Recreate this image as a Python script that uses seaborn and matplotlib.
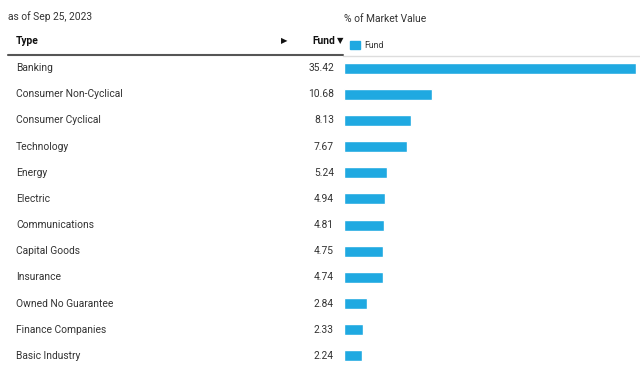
import pandas as pd
import matplotlib.pyplot as plt
import matplotlib.transforms as mtransforms
import seaborn as sns

# Sector breakdown, % of market value
types = ['Banking', 'Consumer Non-Cyclical', 'Consumer Cyclical', 'Technology',
         'Energy', 'Electric', 'Communications', 'Capital Goods', 'Insurance',
         'Owned No Guarantee', 'Finance Companies', 'Basic Industry']
fund = [35.42, 10.68, 8.13, 7.67, 5.24, 4.94, 4.81, 4.75, 4.74, 2.84, 2.33, 2.24]
as_of = 'as of Sep 25, 2023'

df = pd.DataFrame({'Type': types, 'Fund': fund})

sns.set_style('white')
plt.rcParams['font.family'] = ['Roboto', 'DejaVu Sans']

W, H = 640, 369
fig = plt.figure(figsize=(6.4, 3.69), dpi=100)
blue = '#1fa9e1'
txt = '#333333'

# bar area in pixel coordinates
left, right, top, bottom = 344, 636, 55, 369
ax = fig.add_axes([left / W, 1 - bottom / H, (right - left) / W, (bottom - top) / H])
sns.barplot(data=df, x='Fund', y='Type', orient='h', color=blue, width=0.42,
            saturation=1, ax=ax)
ax.set_xlim(0, max(fund))
ax.set_ylim(len(types) - 0.5, -0.5)
ax.axis('off')

# row labels: figure x, data y
trans = mtransforms.blended_transform_factory(fig.transFigure, ax.transData)
for i, (t, v) in enumerate(zip(types, fund)):
    ax.text(16 / W, i, t, transform=trans, ha='left', va='center',
            fontsize=7.4, color=txt)
    ax.text(334 / W, i, f'{v:.2f}', transform=trans, ha='right', va='center',
            fontsize=7.4, color=txt)

# header
fig.text(8 / W, 1 - 17 / H, as_of, ha='left', va='center', fontsize=7.4, color=txt)
fig.text(344 / W, 1 - 19 / H, '% of Market Value', ha='left', va='center',
         fontsize=7.4, color=txt)
fig.text(16 / W, 1 - 41 / H, 'Type', ha='left', va='center', fontsize=7.4,
         fontweight='bold', color='#111111')
fig.text(284 / W, 1 - 41 / H, '\u25b6', ha='center', va='center', fontsize=6,
         color='#111111', family='DejaVu Sans')
fig.text(335 / W, 1 - 41 / H, 'Fund', ha='right', va='center', fontsize=7.4,
         fontweight='bold', color='#111111')
fig.text(340 / W, 1 - 41 / H, '\u25bc', ha='center', va='center', fontsize=6,
         color='#111111', family='DejaVu Sans')

# legend
fig.patches.append(plt.Rectangle((350 / W, 1 - 49 / H), 10 / W, 8 / H,
                                 transform=fig.transFigure, color=blue))
fig.text(364 / W, 1 - 45 / H, 'Fund', ha='left', va='center', fontsize=6.2,
         color=txt)

# header rules
fig.add_artist(plt.Line2D([8 / W, 343 / W], [1 - 55 / H, 1 - 55 / H],
                          color='#555555', lw=1.5))
fig.add_artist(plt.Line2D([343 / W, 1], [1 - 56 / H, 1 - 56 / H],
                          color='#dddddd', lw=1))

fig.savefig('out.png', dpi=100)
